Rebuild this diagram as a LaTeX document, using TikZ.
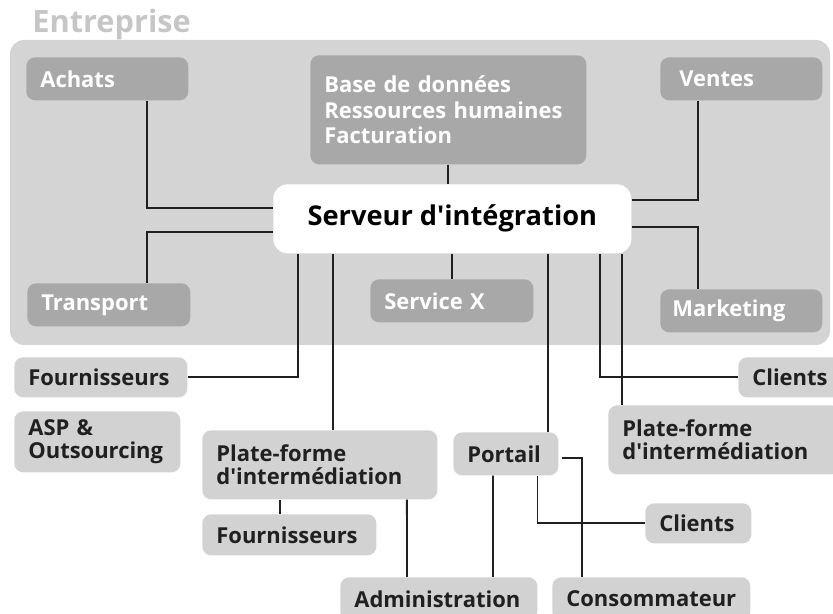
\documentclass[tikz,border=0pt]{standalone}
\usepackage{fontspec}
\setmainfont{Open Sans}

\definecolor{entbg}{HTML}{D4D4D4}
\definecolor{innerbg}{HTML}{A8A8A8}
\definecolor{outerbg}{HTML}{D2D2D2}
\definecolor{linkcol}{HTML}{202020}
\definecolor{titlecol}{HTML}{C6C6C6}

\tikzset{
  inbox/.style={fill=innerbg, rounded corners=5pt, anchor=north west, inner xsep=0.28cm,
    inner ysep=0pt, align=left, text=white, font=\bfseries\fontsize{12.5}{14.5}\selectfont},
  outbox/.style={inbox, fill=outerbg, text=linkcol, font=\bfseries\fontsize{12.5}{13}\selectfont},
  link/.style={draw=linkcol, line width=1.1pt},
}

\begin{document}
\begin{tikzpicture}[x=0.02cm, y=-0.02cm]
    %\draw[help lines, step=50] (0,0) grid (833,614);
    \useasboundingbox (0,0) rectangle (833,614);

    % entreprise
    \fill[entbg, rounded corners=8pt] (10,40) rectangle (830,345);
    \node[anchor=base west, inner sep=0pt, text=titlecol, font=\bfseries\fontsize{17.5}{19}\selectfont] (entreprise) at (32,33) {Entreprise};

    \node[inbox, text width=2.68cm, minimum height=0.86cm] (achats) at (26,57) {Achats};
    \node[inbox, text width=4.96cm, minimum height=2.18cm, font=\bfseries\fontsize{12.5}{14.5}\selectfont] (base) at (310,55)
      {Base de données\\Ressources humaines\\Facturation};
    \node[inbox, text width=2.68cm, minimum height=0.86cm, inner xsep=0.38cm, text width=2.48cm] (ventes) at (660,57) {Ventes};
    \node[inbox, text width=2.70cm, minimum height=0.86cm] (transport) at (27,283) {Transport};
    \node[inbox, text width=2.70cm, minimum height=0.86cm] (servicex) at (370,279) {Service X};
    \node[inbox, text width=2.68cm, minimum height=0.86cm, inner xsep=0.24cm, text width=2.76cm] (marketing) at (660,289) {Marketing};

    \node[fill=white, rounded corners=8pt, anchor=north west, minimum width=7.16cm, minimum height=1.38cm,
      text=black, font=\bfseries\fontsize{15.5}{17}\selectfont] (serveur) at (273,184) {Serveur d\textquotesingle intégration};

    % partenaires
    \node[outbox, text width=2.90cm, minimum height=0.8cm] (fourn1) at (14,357) {Fournisseurs};
    \node[outbox, text width=2.76cm, minimum height=1.22cm] (asp) at (14,411) {ASP \&\\Outsourcing};
    \node[outbox, text width=4.14cm, minimum height=1.38cm] (pfleft) at (202,430) {Plate-forme\\d\textquotesingle intermédiation};
    \node[outbox, text width=2.92cm, minimum height=0.82cm] (fourn2) at (202,514) {Fournisseurs};
    \node[outbox, text width=3.38cm, minimum height=0.86cm] (admin) at (340,577) {Administration};
    \node[outbox, text width=1.54cm, minimum height=0.86cm] (portail) at (453,432) {Portail};
    \node[outbox, text width=4.08cm, minimum height=1.38cm] (pfright) at (608,405) {Plate-forme\\d\textquotesingle intermédiation};
    \node[outbox, text width=1.58cm, minimum height=0.8cm] (clients1) at (738,357) {Clients};
    \node[outbox, text width=1.56cm, minimum height=0.8cm] (clients2) at (645,503) {Clients};
    \node[outbox, text width=3.40cm, minimum height=0.86cm] (consom) at (552,577) {Consommateur};

    % liaisons
    \coordinate (s1) at ([xshift=0.5cm]serveur.south west);
    \coordinate (s2) at ([xshift=1.2cm]serveur.south west);
    \coordinate (s3) at ([xshift=5.5cm]serveur.south west);
    \coordinate (s4) at ([xshift=6.54cm]serveur.south west);
    \coordinate (s5) at ([xshift=6.98cm]serveur.south west);

    \draw[link] ([xshift=2.42cm]achats.south west) |- ([yshift=0.21cm]serveur.west);
    \draw[link] ([yshift=-0.27cm]serveur.west) -| ([xshift=2.4cm]transport.north west);
    \draw[link] (base.south) -- (base.south |- serveur.north);
    \draw[link] (servicex.north) -- (servicex.north |- serveur.south);
    \draw[link] ([yshift=0.37cm]serveur.east) -| ([xshift=0.76cm]ventes.south west);
    \draw[link] ([yshift=-0.17cm]serveur.east) -| ([xshift=0.76cm]marketing.north west);

    \draw[link] (fourn1.east) -| (s1);
    \draw[link] (s2) -- (s2 |- pfleft.north);
    \draw[link] (s3) -- (s3 |- portail.north);
    \draw[link] (s4) |- (clients1.west);
    \draw[link] (s5) -- (s5 |- pfright.north);

    \draw[link] ([xshift=1.56cm]pfleft.south west) -- ([xshift=1.56cm]fourn2.north west);
    \draw[link] ([xshift=4.1cm]pfleft.south west) -- ([xshift=1.34cm]admin.north west);
    \draw[link] ([xshift=0.8cm]portail.south west) -- ([xshift=3.06cm]admin.north west);
    \draw[link] ([xshift=1.69cm]portail.south west) |- (clients2.west);
    \draw[link] ([xshift=0.06cm, yshift=-0.09cm]portail.east) -| ([xshift=0.6cm]consom.north west);

  \end{tikzpicture}
\end{document}
